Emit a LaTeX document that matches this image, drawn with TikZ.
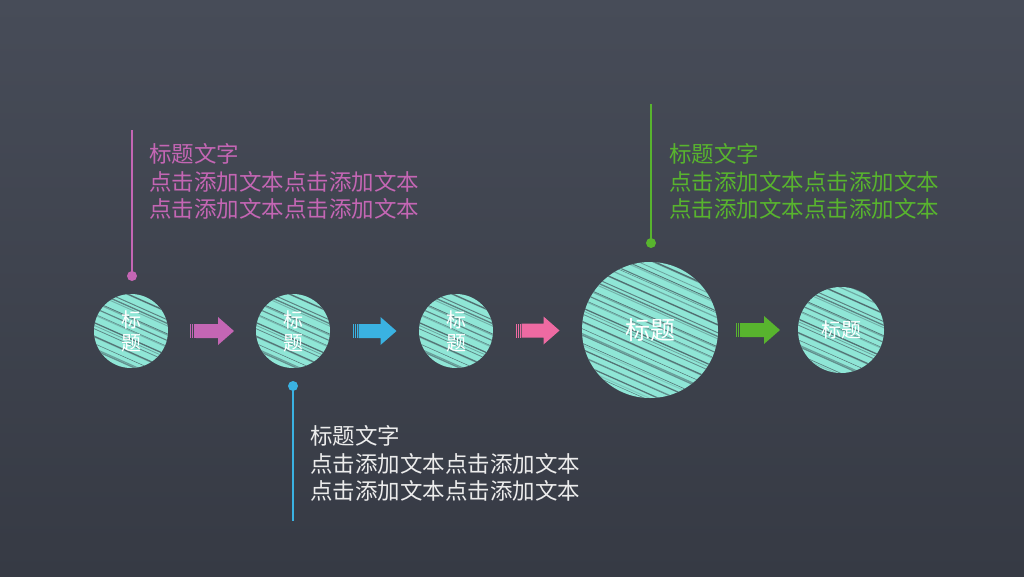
\documentclass[tikz,border=0pt]{standalone}
\usepackage{fontspec}
\newfontfamily\cjk{Noto Sans CJK SC}
\usetikzlibrary{calc}
\definecolor{bgtop}{HTML}{474C58}
\definecolor{bgbot}{HTML}{363A44}
\definecolor{mint}{HTML}{8FE6D6}
\definecolor{hatchc}{HTML}{3E4A52}
\definecolor{cpink}{HTML}{C466B4}
\definecolor{cblue}{HTML}{3AB2E2}
\definecolor{chot}{HTML}{EE6AA2}
\definecolor{cgreen}{HTML}{58B42E}
\definecolor{ctextw}{HTML}{ECECEC}
\tikzset{
  hatched/.style={circle, inner sep=0pt, fill=mint, text=white, align=center,
    path picture={
      \foreach \i in {0,...,45}{
        \pgfmathsetmacro\off{-90+4*\i+1.8*sin(\i*137)}
        \pgfmathsetmacro\op{0.15+0.6*abs(sin(\i*71))}
        \pgfmathsetmacro\lw{0.4+0.9*abs(cos(\i*53))}
        \pgfmathsetmacro\ox{-0.407*\off}
        \pgfmathsetmacro\oy{0.914*\off}
        \draw[hatchc, opacity=\op, line width=\lw pt]
          ([shift={(\ox-110,\oy-49)}]path picture bounding box.center) -- ++(220,98);
      }
    }},
  smallc/.style={hatched, minimum size=74pt, font=\cjk\fontsize{20}{23}\selectfont},
  flowarrow/.pic={
    \fill (-22,-7) rectangle (-20.8,7);
    \fill (-20,-7) rectangle (-18.8,7);
    \fill (-18,-7) rectangle (-16.5,7);
    \fill (-16,-7) -- (6,-7) -- (6,-14) -- (22,0) -- (6,14) -- (6,7) -- (-16,7) -- cycle;
  },
  dotn/.style={circle, inner sep=0pt, minimum size=10pt},
  ctext/.style={anchor=base west, inner sep=0pt, align=left,
    font=\cjk\fontsize{22.5}{27.5}\selectfont},
}
\begin{document}
\begin{tikzpicture}[x=1pt,y=-1pt]
\useasboundingbox (0,0) rectangle (1024,576);
\shade[top color=bgtop, bottom color=bgbot] (0,0) rectangle (1024,576);

% circles
\node[smallc] (c1) at (131,331) {标\\题};
\node[smallc] (c2) at (293,331) {标\\题};
\node[smallc] (c3) at (456,331) {标\\题};
\node[hatched, minimum size=136pt, font=\cjk\fontsize{25}{30}\selectfont] (c4) at (650,330) {标题};
\node[hatched, minimum size=86pt, font=\cjk\fontsize{20}{24}\selectfont] (c5) at (841,330) {标题};

% arrows
\pic[fill=cpink] at ($(c1.east)!0.5!(c2.west)$) {flowarrow};
\pic[fill=cblue] at ($(c2.east)!0.5!(c3.west)$) {flowarrow};
\pic[fill=chot] at ($(c3.east)!0.5!(c4.west)$) {flowarrow};
\pic[fill=cgreen] at ($(c4.east)!0.5!(c5.west)$) {flowarrow};

% callout 1
\node[dotn, fill=cpink] (d1) at (132,276) {};
\coordinate (t1) at (132,130);
\draw[cpink, line width=1.3pt] (d1.center) -- (t1);
\node[ctext, text=cpink] (x1) at (149,217.5) {标题文字\\点击添加文本点击添加文本\\点击添加文本点击添加文本};

% callout 2
\node[dotn, fill=cblue] (d2) at (293,386) {};
\coordinate (t2) at (293,521);
\draw[cblue, line width=1.3pt] (d2.center) -- (t2);
\node[ctext, text=ctextw] (x2) at (310,499.5) {标题文字\\点击添加文本点击添加文本\\点击添加文本点击添加文本};

% callout 3
\node[dotn, fill=cgreen] (d3) at (651,243) {};
\coordinate (t3) at (651,104);
\draw[cgreen, line width=1.3pt] (d3.center) -- (t3);
\node[ctext, text=cgreen] (x3) at (669,217.5) {标题文字\\点击添加文本点击添加文本\\点击添加文本点击添加文本};
\end{tikzpicture}
\end{document}
